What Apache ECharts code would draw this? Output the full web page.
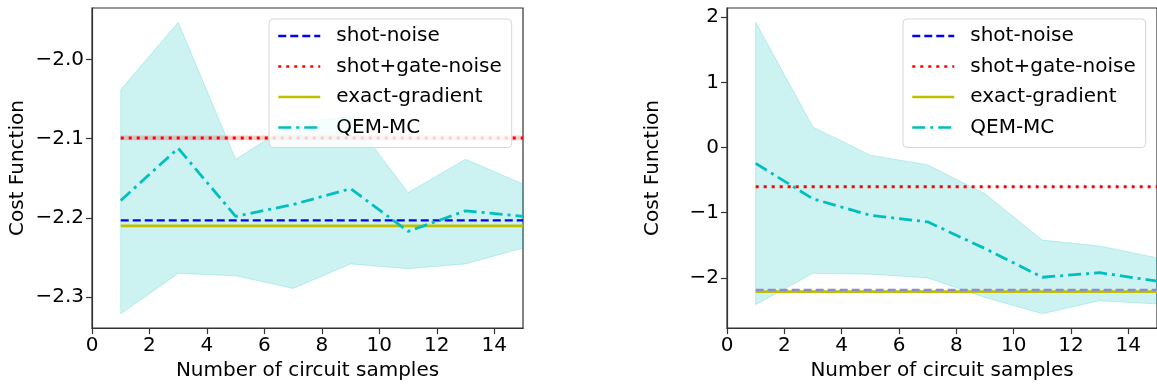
<!DOCTYPE html>
<html>
<head>
<meta charset="utf-8">
<script src="https://cdn.jsdelivr.net/npm/echarts@6/dist/echarts.min.js"></script>
<style>
  html, body { margin: 0; padding: 0; background: #fff; }
  #chart { width: 1157px; height: 386px; }
</style>
</head>
<body>
<div id="chart"></div>
<script>
// circuit sample counts
const samples = [1, 3, 5, 7, 9, 11, 13, 15];

// left panel
const leftQem = [-2.178, -2.112, -2.198, -2.183, -2.163, -2.217, -2.191, -2.198];
const leftQemLow = [-2.321, -2.270, -2.273, -2.289, -2.258, -2.264, -2.258, -2.238];
const leftQemHigh = [-2.038, -1.953, -2.126, -2.080, -2.072, -2.168, -2.126, -2.157];
const leftShot = [-2.203, -2.203, -2.203, -2.203, -2.203, -2.203, -2.203, -2.203];
const leftGate = [-2.099, -2.099, -2.099, -2.099, -2.099, -2.099, -2.099, -2.099];
const leftGateLow = [-2.102, -2.102, -2.102, -2.102, -2.102, -2.102, -2.102, -2.102];
const leftGateHigh = [-2.096, -2.096, -2.096, -2.096, -2.096, -2.096, -2.096, -2.096];
const leftExact = [-2.21, -2.21, -2.21, -2.21, -2.21, -2.21, -2.21, -2.21];

// right panel
const rightQem = [-0.244, -0.787, -1.04, -1.14, -1.55, -1.99, -1.92, -2.05];
const rightQemLow = [-2.41, -1.93, -1.944, -2.0, -2.30, -2.55, -2.35, -2.40];
const rightQemHigh = [1.92, 0.314, -0.117, -0.265, -0.71, -1.42, -1.51, -1.69];
const rightShot = [-2.185, -2.185, -2.185, -2.185, -2.185, -2.185, -2.185, -2.185];
const rightGate = [-0.6, -0.6, -0.6, -0.6, -0.6, -0.6, -0.6, -0.6];
const rightExact = [-2.21, -2.21, -2.21, -2.21, -2.21, -2.21, -2.21, -2.21];

// ticks
const xTicks = [0, 2, 4, 6, 8, 10, 12, 14];
const leftYTicks = [-2.3, -2.2, -2.1, -2.0];
const rightYTicks = [-2, -1, 0, 1, 2];

const legendNames = ["shot-noise", "shot+gate-noise", "exact-gradient", "QEM-MC"];
const FONT = "DejaVu Sans";

const pts = (arr) => samples.map((x, i) => [x, arr[i]]);
const minus = (v, d) => (v < 0 ? "\u2212" : "") + Math.abs(v).toFixed(d);

// shaded band between low and high, drawn as one polygon through the axes
function band(idx, key, low, high, fill, edge) {
  return {
    type: "custom",
    name: key,
    xAxisIndex: idx,
    yAxisIndex: idx,
    silent: true,
    clip: true,
    z: 1,
    data: samples.map((x, i) => [x, low[i], high[i]]),
    encode: { x: 0, y: [1, 2] },
    renderItem: (params, api) => {
      if (params.dataIndex !== 0) return null;
      const top = samples.map((x, i) => api.coord([x, high[i]]));
      const bottom = samples.map((x, i) => api.coord([x, low[i]])).reverse();
      return {
        type: "polygon",
        shape: { points: top.concat(bottom) },
        style: { fill: fill, stroke: edge, lineWidth: edge ? 1 : 0 },
      };
    },
  };
}

function lineSeries(idx, name, arr, color, type, width, z) {
  return {
    type: "line",
    name: name,
    xAxisIndex: idx,
    yAxisIndex: idx,
    data: pts(arr),
    symbol: "none",
    z: z,
    lineStyle: { color: color, type: type, width: width, cap: "butt" },
    itemStyle: { color: color },
  };
}

function xAxis(idx) {
  return {
    type: "value",
    gridIndex: idx,
    min: 0,
    max: 15,
    name: "Number of circuit samples",
    nameLocation: "middle",
    nameGap: 32,
    nameTextStyle: { fontSize: 20, color: "#000", fontFamily: FONT },
    axisLine: { show: true, onZero: false, lineStyle: { color: "#333", width: 1.2 } },
    axisTick: { show: true, customValues: xTicks, length: 6, lineStyle: { color: "#333", width: 1.2 } },
    axisLabel: { customValues: xTicks, fontSize: 20, color: "#000", fontFamily: FONT, margin: 8 },
    splitLine: { show: false },
  };
}

function yAxis(idx, min, max, ticks, dec) {
  return {
    type: "value",
    gridIndex: idx,
    min: min,
    max: max,
    name: "Cost Function",
    nameLocation: "middle",
    nameGap: 64,
    nameTextStyle: { fontSize: 20, color: "#000", fontFamily: FONT },
    axisLine: { show: true, onZero: false, lineStyle: { color: "#333", width: 1.2 } },
    axisTick: { show: true, customValues: ticks, length: 6, lineStyle: { color: "#333", width: 1.2 } },
    axisLabel: {
      customValues: ticks,
      fontSize: 20,
      color: "#000",
      fontFamily: FONT,
      margin: 8,
      formatter: (v) => minus(v, dec),
    },
    splitLine: { show: false },
  };
}

function legend(left) {
  return {
    data: legendNames,
    orient: "vertical",
    left: left,
    top: 19,
    itemWidth: 42,
    itemHeight: 12,
    itemGap: 10.5,
    padding: [7, 10, 10, 8],
    borderColor: "#d6d6d6",
    borderWidth: 1,
    borderRadius: 4,
    backgroundColor: "rgba(255,255,255,0.8)",
    selectedMode: false,
    itemStyle: { opacity: 0 },
    lineStyle: { width: 2.5 },
    textStyle: { fontSize: 20, color: "#000", fontFamily: FONT, padding: [0, 0, 0, 11] },
  };
}

const cyanFill = "rgba(0,191,191,0.2)";
const cyanEdge = "rgba(0,191,191,0.2)";

const option = {
  animation: false,
  backgroundColor: "#fff",
  grid: [
    { left: 92, top: 8, width: 431, height: 322, show: true, borderColor: "#333", borderWidth: 1.2, backgroundColor: "transparent" },
    { left: 727, top: 8, width: 430, height: 322, show: true, borderColor: "#333", borderWidth: 1.2, backgroundColor: "transparent" },
  ],
  xAxis: [xAxis(0), xAxis(1)],
  yAxis: [yAxis(0, -2.339, -1.935, leftYTicks, 1), yAxis(1, -2.77, 2.14, rightYTicks, 0)],
  legend: [legend(269), legend(903)],
  series: [
    band(0, "qemL", leftQemLow, leftQemHigh, cyanFill, cyanEdge),
    band(0, "gateL", leftGateLow, leftGateHigh, "rgba(255,0,0,0.2)", null),
    lineSeries(0, "shot-noise", leftShot, "#0000ff", [8, 4], 2.4, 3),
    lineSeries(0, "shot+gate-noise", leftGate, "#ff0000", [3, 5], 3, 3),
    lineSeries(0, "exact-gradient", leftExact, "#bfbf00", "solid", 2.6, 2),
    lineSeries(0, "QEM-MC", leftQem, "#00bfbf", [13, 5, 3, 5], 2.8, 4),

    band(1, "qemR", rightQemLow, rightQemHigh, cyanFill, cyanEdge),
    lineSeries(1, "shot-noise", rightShot, "#8c8cd0", [8, 4], 2.4, 3),
    lineSeries(1, "shot+gate-noise", rightGate, "#ff0000", [3, 5], 3, 3),
    lineSeries(1, "exact-gradient", rightExact, "#bfbf00", "solid", 2.6, 2),
    lineSeries(1, "QEM-MC", rightQem, "#00bfbf", [13, 5, 3, 5], 2.8, 4),
  ],
};

const chart = echarts.init(document.getElementById("chart"), null, { renderer: "canvas" });
chart.setOption(option);
</script>
</body>
</html>
